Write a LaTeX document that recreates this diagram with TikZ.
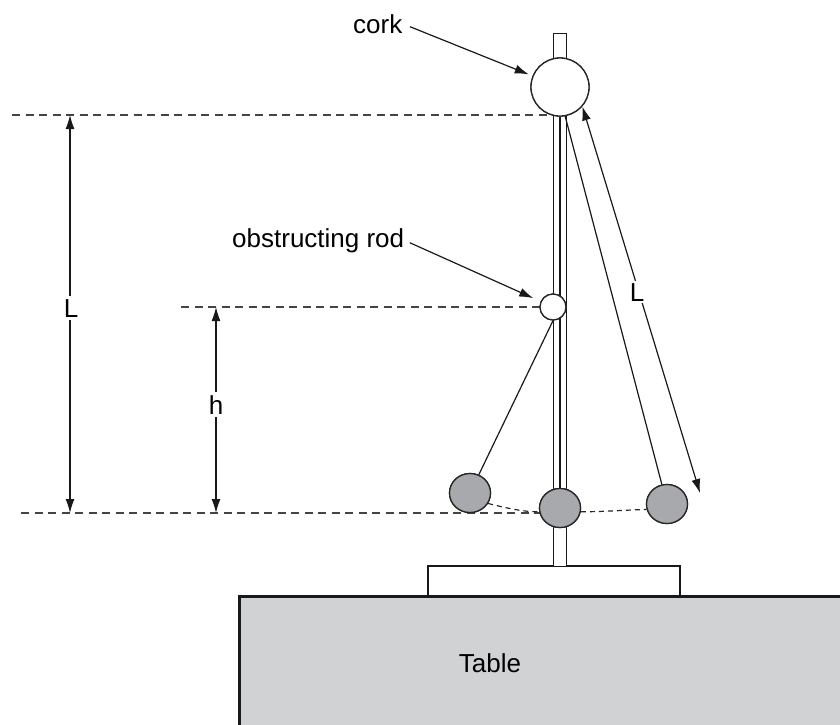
\documentclass[tikz,border=0pt]{standalone}
\usepackage{fontspec}
\setmainfont{Liberation Sans}
\usetikzlibrary{arrows.meta,shapes.geometric}
\definecolor{bobgray}{HTML}{A7A9AC}
\definecolor{tablegray}{HTML}{D1D2D4}
\definecolor{dashgray}{HTML}{444444}
\begin{document}
\begin{tikzpicture}[x=1pt,y=-1pt,
  thinline/.style={line width=1.2pt,black!90},
  guide/.style={line width=1.2pt,dashgray,dash pattern=on 8pt off 5.5pt},
  arcdash/.style={line width=1.2pt,black!85,dash pattern=on 5pt off 4pt},
  bob/.style={ellipse,draw=black!85,line width=1.3pt,fill=bobgray,minimum width=41pt,minimum height=39pt,inner sep=0pt},
  holder/.style={circle,draw=black!85,line width=1.3pt,fill=white,inner sep=0pt},
  lbl/.style={font=\fontsize{26}{30}\selectfont,inner sep=0pt},
  dimlbl/.style={font=\fontsize{26}{30}\selectfont,fill=white,inner sep=3pt},
  arr/.style={line width=1.2pt,black!90,-{Latex[length=14pt,width=9pt]}},
  dimarr/.style={line width=1.2pt,black!90,{Latex[length=14pt,width=9pt]}-{Latex[length=14pt,width=9pt]}}
]
\useasboundingbox (0,0) rectangle (840,724);
\clip (0,0) rectangle (840,724);

% table and base plate
\draw[line width=3pt,black!90,fill=tablegray] (239,596) rectangle (860,740);
\node[lbl,anchor=base] (tabletxt) at (490,672) {Table};
\draw[line width=2.5pt,black!90,fill=white] (428,566) rectangle (680,596);

% guide lines
\draw[guide] (12,115) -- (553,115);
\draw[guide] (181,307) -- (540,307);
\draw[guide] (21,513) -- (540,513);

% stand rod
\draw[line width=1pt,black!90,fill=white] (553,33) rectangle (566,566);

% nodes
\node[holder,minimum size=58pt] (cork) at (560,87) {};
\node[holder,minimum size=26pt] (obs) at (553,307) {};
\node[bob] (lbob) at (470,493) {};
\node[bob] (cbob) at (560,508) {};
\node[bob] (rbob) at (667,504) {};

% strings
\draw[thinline] (cork.south) -- (cbob.north);
\draw[thinline] (cork.-80) -- (rbob);
\draw[thinline] (obs.south) -- (lbob);

% swing arcs
\draw[arcdash] (lbob.330) .. controls (510,509) and (525,512) .. (cbob.190);
\draw[arcdash] (cbob.350) .. controls (600,512) and (625,510) .. (rbob.195);

% redraw bobs on top
\node[bob] at (lbob) {};
\node[bob] at (cbob) {};
\node[bob] at (rbob) {};
\node[holder,minimum size=58pt] at (cork) {};
\node[holder,minimum size=26pt] at (obs) {};

% labels with pointers
\node[lbl,anchor=base west] (corklbl) at (353,33) {cork};
\draw[arr,shorten <=8pt,shorten >=4pt] (corklbl.east) -- (cork);
\node[lbl,anchor=base west] (obslbl) at (232,247) {obstructing rod};
\draw[arr,shorten <=6pt,shorten >=8pt] (obslbl.east) -- (obs);

% dimensions
\coordinate (Ltop) at (70,115);
\coordinate (Lbot) at (70,513);
\draw[dimarr] (Ltop) -- (Lbot);
\node[dimlbl,anchor=base] (Lleft) at (71,317) {L};

\coordinate (htop) at (216,307);
\coordinate (hbot) at (216,513);
\draw[dimarr] (htop) -- (hbot);
\node[dimlbl,anchor=base] (hlbl) at (216,414) {h};

\coordinate (Lend) at (700,493);
\draw[dimarr] (cork.-41) -- (Lend);
\node[dimlbl,anchor=base,inner sep=2pt] (Lright) at (637,301) {L};
\end{tikzpicture}
\end{document}
